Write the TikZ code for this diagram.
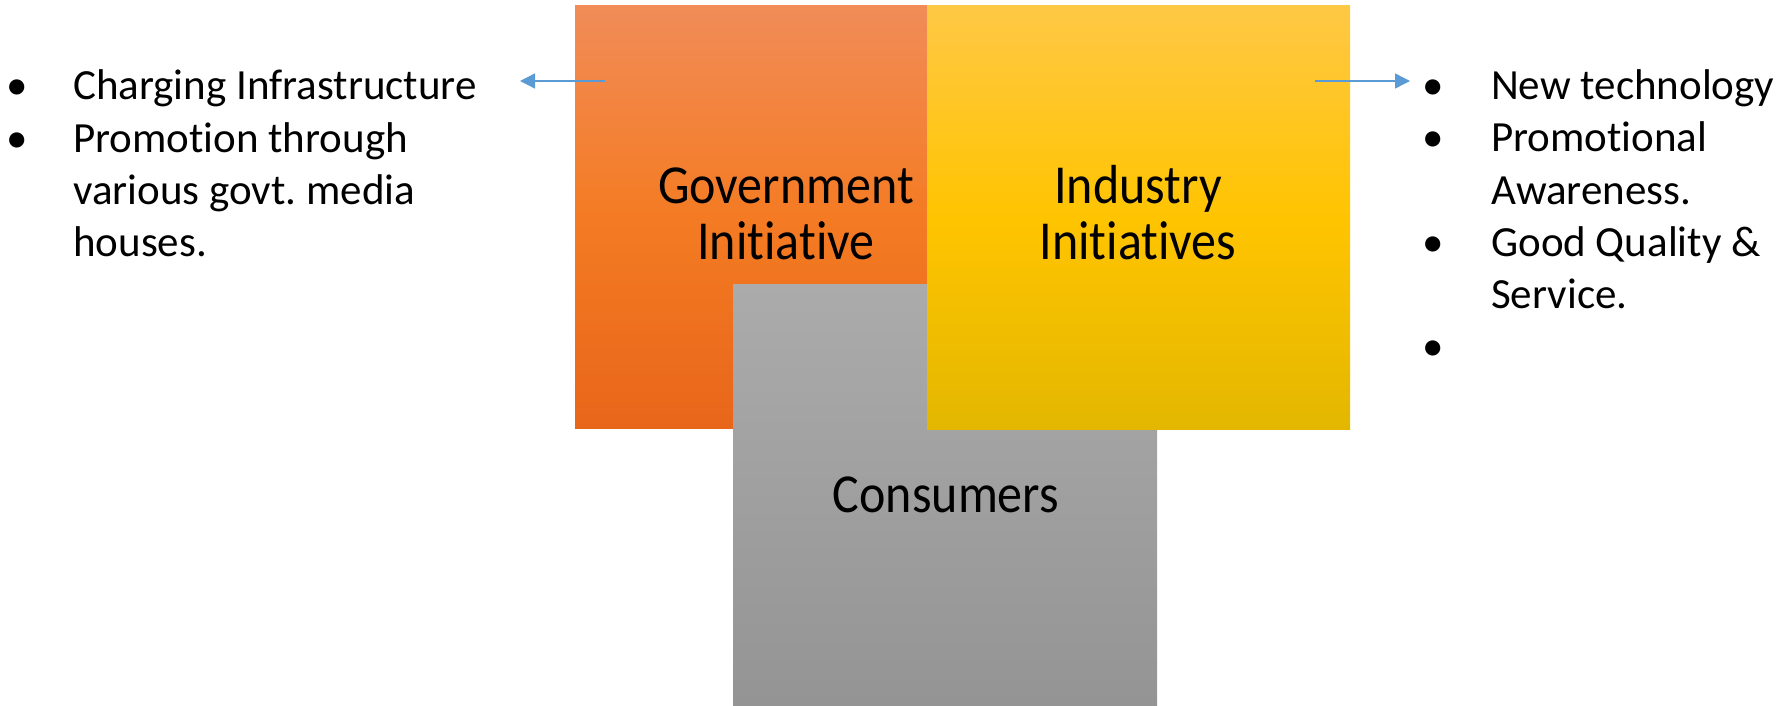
\documentclass[tikz,border=0pt]{standalone}
\usepackage{fontspec}
\setmainfont{Carlito}[Ligatures=NoCommon]
\frenchspacing
\usetikzlibrary{arrows.meta}
\definecolor{orTop}{HTML}{F18C58}
\definecolor{orMid}{HTML}{F47B23}
\definecolor{orBot}{HTML}{E8661A}
\definecolor{yeTop}{HTML}{FFC845}
\definecolor{yeMid}{HTML}{FFC400}
\definecolor{yeBot}{HTML}{E3B700}
\definecolor{grTop}{HTML}{ABABAB}
\definecolor{grBot}{HTML}{949494}
\definecolor{linkblue}{HTML}{5B9BD5}
\newcommand{\tallword}[1]{\scalebox{1}[1.1]{#1}}
\begin{document}
\begin{tikzpicture}[x=1pt,y=-1pt,
  panel/.style={draw=none, inner sep=0pt, outer sep=0pt, rectangle},
  listtext/.style={anchor=base west, inner sep=0pt, font=\fontsize{43}{52}\selectfont},
  bul/.style={anchor=base, inner sep=0pt, font=\fontsize{43}{52}\selectfont},
  boxlabel/.style={anchor=base, inner sep=0pt, font=\fontsize{50}{56}\selectfont},
  link/.style={draw=linkblue, line width=1.4pt, -{Triangle[length=15pt,width=15pt]}}]
\useasboundingbox (0,0) rectangle (1791,706);

% coloured panels, back to front
\node[panel, top color=orTop, bottom color=orBot, middle color=orMid,
      minimum width=352pt, minimum height=422pt] (gov) at (751,217) {};
\node[panel, top color=grTop, bottom color=grBot,
      minimum width=424pt, minimum height=422pt] (cons) at (945,495) {};
\node[panel, top color=yeTop, bottom color=yeBot, middle color=yeMid,
      minimum width=423pt, minimum height=423pt] (ind) at (1138.5,217.5) {};

% panel labels
\node[boxlabel] (govA) at (786,203) {\tallword{Government}};
\node[boxlabel] (govB) at (786,259) {\tallword{Initiative}};
\node[boxlabel] (indA) at (1138,203) {\tallword{Industry}};
\node[boxlabel] (indB) at (1138,259) {\tallword{Initiatives}};
\node[boxlabel] (consA) at (946,512) {\tallword{Consumers}};

% government points
\node[bul] (lb1) at (17,100) {•};
\node[listtext] (l1) at (73,100) {Charging Infrastructure};
\node[bul] (lb2) at (17,153) {•};
\node[listtext] (l2) at (73,153) {Promotion through};
\node[listtext] (l3) at (73,204) {various govt. media};
\node[listtext] (l4) at (73,256) {houses.};

% industry points
\node[bul] (rb1) at (1433,100) {•};
\node[listtext] (r1) at (1491,100) {New technology};
\node[bul] (rb2) at (1433,152) {•};
\node[listtext] (r2) at (1491,152) {Promotional};
\node[listtext] (r3) at (1491,204) {Awareness.};
\node[bul] (rb3) at (1433,256) {•};
\node[listtext] (r4) at (1491,256) {Good Quality \&};
\node[listtext] (r5) at (1491,308) {Service.};
\node[bul] (rb4) at (1433,360) {•};

% arrows out to the lists
\coordinate (gs) at (605,81);
\coordinate (ge) at (520,81);
\coordinate (is) at (1315,81);
\coordinate (ie) at (1410,81);
\draw[link] (gs) -- (ge);
\draw[link] (is) -- (ie);
\end{tikzpicture}
\end{document}
